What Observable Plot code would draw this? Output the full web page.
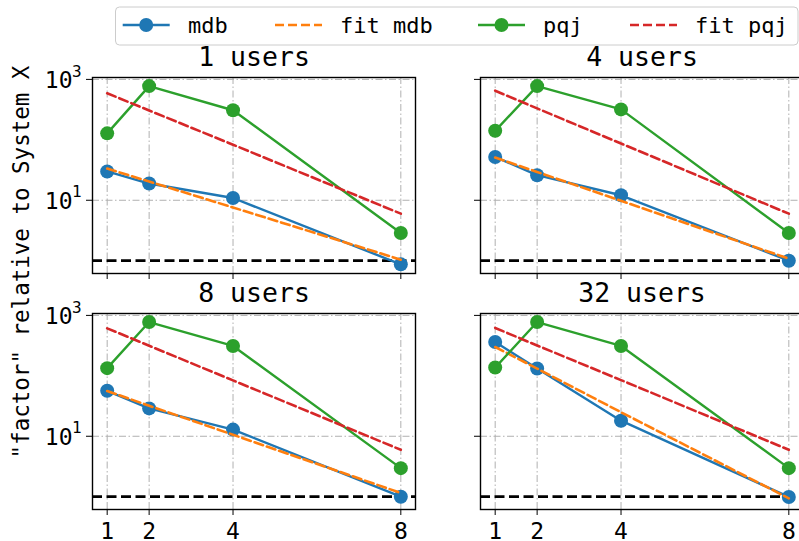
<!DOCTYPE html>
<html><head><meta charset="utf-8">
<script src="https://cdn.jsdelivr.net/npm/d3@7"></script>
<script src="https://cdn.jsdelivr.net/npm/@observablehq/plot@0.6"></script>
<style>
html,body{margin:0;padding:0;background:#fff;}
#wrap{position:relative;width:799px;height:541px;overflow:hidden;font-family:"DejaVu Sans Mono",monospace;}
#wrap svg{position:absolute;overflow:visible;}
</style></head><body><div id="wrap"></div>
<script>
// ---- data ----
const xValues = [1, 2, 4, 8];
const panelTitles = ["1 users", "4 users", "8 users", "32 users"];
const mdb = [
  [30, 18.9, 10.9, 0.87],
  [52, 26, 12.1, 1.0],
  [56.6, 28.9, 12.9, 1.0],
  [363, 132, 18.1, 0.99]
];
const fitMdb = [
  [33.5, 20.4, 7.6, 1.04],
  [51, 29.4, 9.8, 1.08],
  [56, 32, 10.6, 1.15],
  [300, 132, 25, 0.94]
];
const pqj = [
  [128, 775, 309, 2.87],
  [141, 775, 319, 2.87],
  [134, 776, 312, 2.97],
  [137, 776, 312, 2.97]
];
const fitPqj = [
  [590, 306, 83, 6.0],
  [650, 331, 87, 6.0],
  [611, 315, 84, 5.97],
  [620, 318, 85, 5.97]
];
const seriesNames = ["mdb", "fit mdb", "pqj", "fit pqj"];
const seriesColors = ["#1f77b4", "#ff7f0e", "#2ca02c", "#d62728"];
const yTickValues = [10, 1000];
const yTickExponents = ["1", "3"];
const baselineValue = [1];
const yLabel = '"factor" relative to System X';

// ---- layout ----
const wrap = document.getElementById("wrap");
const FW = 323, FH = 196, ML = 92, MR = 5, MT = 45, MB = 35;
const colLeft = [92, 480], rowTop = [77.3, 312.7];
const gridStyle = {stroke: "#b0b0b0", strokeOpacity: 1, strokeWidth: 1, strokeDasharray: "7,2.5,1.5,2.5"};
const SOLID_W = 2.4, DASH_W = 2.6, DASH = "9,4";

function panel(i) {
  const col = i % 2, row = Math.floor(i / 2);
  const rows = (arr, name) => xValues.map((x, j) => ({x, y: arr[i][j], series: name}));
  const dM = rows(mdb, "mdb"), dFM = rows(fitMdb, "fit mdb"), dP = rows(pqj, "pqj"), dFP = rows(fitPqj, "fit pqj");
  const marks = [
    Plot.ruleX(xValues, {x: d => d, ...gridStyle}),
    Plot.ruleY(yTickValues, {y: d => d, ...gridStyle}),
    Plot.ruleY(baselineValue, {y: d => d, stroke: "black", strokeWidth: 2.8, strokeDasharray: "10,4.5"}),
    Plot.line(dM, {x: "x", y: "y", stroke: seriesColors[0], strokeWidth: SOLID_W}),
    Plot.dot(dM, {x: "x", y: "y", r: 7, fill: seriesColors[0], stroke: "none"}),
    Plot.line(dFM, {x: "x", y: "y", stroke: seriesColors[1], strokeWidth: DASH_W, strokeDasharray: DASH}),
    Plot.line(dP, {x: "x", y: "y", stroke: seriesColors[2], strokeWidth: SOLID_W}),
    Plot.dot(dP, {x: "x", y: "y", r: 7, fill: seriesColors[2], stroke: "none"}),
    Plot.line(dFP, {x: "x", y: "y", stroke: seriesColors[3], strokeWidth: DASH_W, strokeDasharray: DASH}),
    Plot.frame({stroke: "black", strokeWidth: 1.4}),
    Plot.text([panelTitles[i]], {text: d => d, frameAnchor: "top", lineAnchor: "bottom", dy: -11.5, fontSize: 26.5, fill: "black"})
  ];
  if (col === 0) {
    marks.push(Plot.text(yTickValues, {y: d => d, text: () => "10", frameAnchor: "left", textAnchor: "end", lineAnchor: "middle", dx: -20, dy: 1, fontSize: 23, fill: "black"}));
    marks.push(Plot.text(yTickValues, {y: d => d, text: (d, j) => yTickExponents[j], frameAnchor: "left", textAnchor: "start", lineAnchor: "middle", dx: -20.5, dy: -8, fontSize: 16, fill: "black"}));
  }
  const svg = Plot.plot({
    width: ML + FW + MR, height: MT + FH + MB,
    marginLeft: ML, marginRight: MR, marginTop: MT, marginBottom: MB,
    x: {domain: [0.65, 8.35], ticks: xValues, tickSize: 6, tickPadding: 7, label: null,
        tickFormat: row === 1 ? (d => String(d)) : (() => "")},
    y: {type: "log", domain: [0.614, 1075], ticks: yTickValues, tickSize: 6, label: null, tickFormat: () => ""},
    style: {fontFamily: "DejaVu Sans Mono", fontSize: "23px", background: "transparent", overflow: "visible", maxWidth: "none", color: "black"},
    marks
  });
  svg.style.left = (colLeft[col] - ML) + "px";
  svg.style.top = (rowTop[row] - MT) + "px";
  wrap.appendChild(svg);
}
[0, 1, 2, 3].forEach(panel);

// ---- y label ----
const NS = "http://www.w3.org/2000/svg";
const ylab = document.createElementNS(NS, "svg");
ylab.setAttribute("width", 40); ylab.setAttribute("height", 541);
ylab.style.left = "0px"; ylab.style.top = "0px";
const yt = document.createElementNS(NS, "text");
yt.setAttribute("transform", "translate(28.5,262) rotate(-90)");
yt.setAttribute("text-anchor", "middle");
yt.setAttribute("font-size", "22.5");
yt.setAttribute("font-family", "DejaVu Sans Mono");
yt.textContent = yLabel;
ylab.appendChild(yt);
wrap.appendChild(ylab);

// ---- legend ----
const leg = document.createElementNS(NS, "svg");
leg.setAttribute("width", 799); leg.setAttribute("height", 50);
leg.style.left = "0px"; leg.style.top = "0px"; leg.style.zIndex = 5;
const mk = (tag, attrs, text) => {
  const e = document.createElementNS(NS, tag);
  for (const k in attrs) e.setAttribute(k, attrs[k]);
  if (text) e.textContent = text;
  leg.appendChild(e);
  return e;
};
mk("rect", {x: 115.5, y: 7, width: 682.5, height: 38, rx: 4, fill: "white", "fill-opacity": 0.8, stroke: "#cccccc", "stroke-width": 1});
const legX = [122.7, 275, 478, 630];
const legTextX = [188, 340, 543, 695];
seriesNames.forEach((name, k) => {
  const dashed = name.startsWith("fit");
  mk("line", {x1: legX[k], x2: legX[k] + 47, y1: 25, y2: 25, stroke: seriesColors[k], "stroke-width": dashed ? DASH_W : SOLID_W, "stroke-dasharray": dashed ? DASH : "none"});
  if (!dashed) mk("circle", {cx: legX[k] + 23.5, cy: 25, r: 7, fill: seriesColors[k]});
  mk("text", {x: legTextX[k], y: 33.3, "font-size": 22, "font-family": "DejaVu Sans Mono", fill: "black"}, name);
});
wrap.appendChild(leg);
</script></body></html>
